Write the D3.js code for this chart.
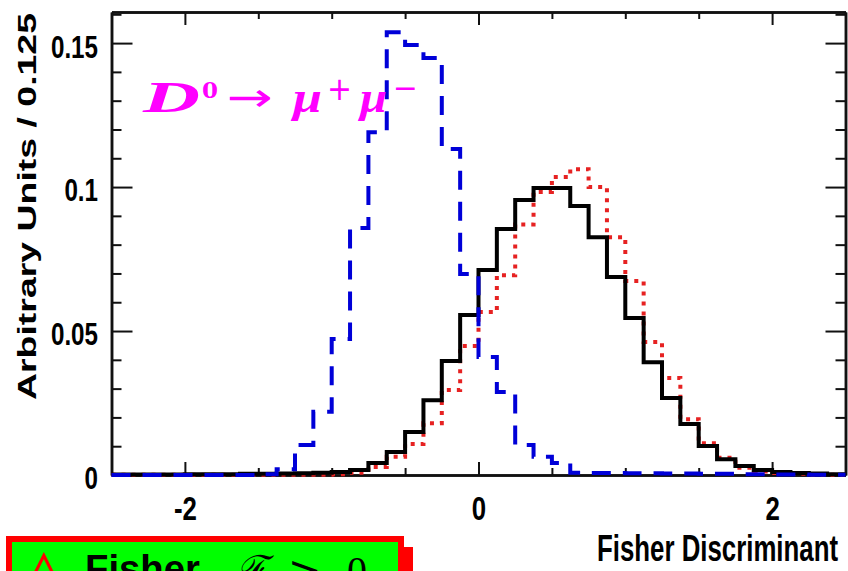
<!DOCTYPE html>
<html>
<head>
<meta charset="utf-8">
<script src="https://cdn.jsdelivr.net/npm/d3@7"></script>
<style>
  body { margin: 0; background: #fff; }
  svg { display: block; }
</style>
</head>
<body>
<div id="chart"></div>
<script>
// bin edges: 40 bins of 0.125 from -2.5 to 2.5
const binLow = -2.5;
const binWidth = 0.125;

// blue dashed histogram (signal-like peak at negative Fisher values)
const blueValues = [
  0, 0, 0, 0, 0, 0, 0, 0, 0.0003,
  0.002, 0.0104, 0.022, 0.0472, 0.0858, 0.119, 0.1538, 0.1493,
  0.1448, 0.1132, 0.0698, 0.041, 0.0288, 0.0104, 0.0063, 0.0042,
  0.0008, 0.0007, 0.0007, 0.0006, 0.0006, 0.0005, 0.0005, 0.0004,
  0.0004, 0.0003, 0.0003, 0.0002, 0.0002, 0.0001, 0.0001
];

// black solid histogram
const blackValues = [
  0.0002, 0.0002, 0.0002, 0.0002, 0.0003, 0.0003, 0.0003, 0.0004,
  0.0004, 0.0005, 0.0006, 0.0008, 0.001, 0.0017, 0.0042, 0.008,
  0.0149, 0.026, 0.0396, 0.0556, 0.0712, 0.0854, 0.0955, 0.0997,
  0.0997, 0.0934, 0.0826, 0.0688, 0.0545, 0.0392, 0.0267, 0.0177,
  0.0101, 0.0055, 0.0031, 0.0017, 0.001, 0.0007, 0.0005, 0.0003
];

// red dotted histogram
const redValues = [
  0.0001, 0.0001, 0.0001, 0.0001, 0.0001, 0.0001, 0.0001, 0.0001,
  0.0001, 0.0001, 0.0001, 0.0001, 0.0003, 0.0008, 0.0028, 0.0063,
  0.0108, 0.018, 0.0295, 0.0448, 0.0566, 0.0694, 0.087, 0.0983,
  0.1035, 0.1062, 0.1, 0.0826, 0.0674, 0.0462, 0.0337, 0.0194,
  0.011, 0.006, 0.0025, 0.0012, 0.0007, 0.0004, 0.0002, 0.0001
];

const xTicks = [-2, 0, 2];
const xTickLabels = ["-2", "0", "2"];
const xMinorTicks = [-1.5, -1, -0.5, 0.5, 1, 1.5];
const yTicks = [0, 0.05, 0.1, 0.15];
const yTickLabels = ["0", "0.05", "0.1", "0.15"];
const yMinorTicks = [0.01, 0.02, 0.03, 0.04, 0.06, 0.07, 0.08, 0.09,
                     0.11, 0.12, 0.13, 0.14, 0.16];

const W = 848, H = 571;
const plot = { left: 111.5, right: 845.5, top: 12, bottom: 475 };

const svg = d3.select("#chart").append("svg")
  .attr("width", W)
  .attr("height", H);

const x = d3.scaleLinear().domain([-2.5, 2.5]).range([plot.left, plot.right]);
const y = d3.scaleLinear().domain([0, 0.1608]).range([plot.bottom, plot.top]);

const axisColor = "#111";

function styleAxis(g) {
  g.attr("font-family", null).attr("font-size", null);
  g.select(".domain").attr("stroke", axisColor).attr("stroke-width", 2.5);
  g.selectAll(".tick line").attr("stroke", axisColor).attr("stroke-width", 2);
}

// minor ticks (no labels)
svg.append("g").attr("transform", `translate(${plot.left},0)`)
  .call(d3.axisLeft(y).tickValues(yMinorTicks).tickSize(-10).tickSizeOuter(0).tickFormat(""))
  .call(styleAxis);
svg.append("g").attr("transform", `translate(${plot.right},0)`)
  .call(d3.axisRight(y).tickValues(yMinorTicks).tickSize(-10).tickSizeOuter(0).tickFormat(""))
  .call(styleAxis);
svg.append("g").attr("transform", `translate(0,${plot.bottom})`)
  .call(d3.axisBottom(x).tickValues(xMinorTicks).tickSize(-7).tickSizeOuter(0).tickFormat(""))
  .call(styleAxis);
svg.append("g").attr("transform", `translate(0,${plot.top})`)
  .call(d3.axisTop(x).tickValues(xMinorTicks).tickSize(-7).tickSizeOuter(0).tickFormat(""))
  .call(styleAxis);

// major ticks
const yLabelScale = 0.78;
const yPad = 13.5;
const yAxis = svg.append("g").attr("transform", `translate(${plot.left},0)`)
  .call(d3.axisLeft(y).tickValues(yTicks).tickSize(-21).tickSizeOuter(0).tickPadding(yPad)
    .tickFormat((d, i) => yTickLabels[i]))
  .call(styleAxis);
yAxis.selectAll("text")
  .attr("font-family", "Liberation Sans, Arial, sans-serif")
  .attr("font-weight", "bold")
  .attr("font-size", 31)
  .attr("fill", "#000")
  .attr("x", -yPad / yLabelScale)
  .attr("y", 4)
  .attr("transform", `scale(${yLabelScale},1)`);

svg.append("g").attr("transform", `translate(${plot.right},0)`)
  .call(d3.axisRight(y).tickValues(yTicks).tickSize(-20).tickSizeOuter(0).tickFormat(""))
  .call(styleAxis);

const xLabelScale = 0.76;
const xAxis = svg.append("g").attr("transform", `translate(0,${plot.bottom})`)
  .call(d3.axisBottom(x).tickValues(xTicks).tickSize(-13).tickSizeOuter(0).tickPadding(21)
    .tickFormat((d, i) => xTickLabels[i]))
  .call(styleAxis);
xAxis.selectAll("text")
  .attr("font-family", "Liberation Sans, Arial, sans-serif")
  .attr("font-weight", "bold")
  .attr("font-size", 34)
  .attr("fill", "#000")
  .attr("transform", `scale(${xLabelScale},1)`);

svg.append("g").attr("transform", `translate(0,${plot.top})`)
  .call(d3.axisTop(x).tickValues(xTicks).tickSize(-13).tickSizeOuter(0).tickFormat(""))
  .call(styleAxis);

// histograms as step lines
function stepPoints(values) {
  const pts = values.map((v, i) => [binLow + i * binWidth, v]);
  pts.push([binLow + values.length * binWidth, values[values.length - 1]]);
  return pts;
}
const stepLine = d3.line()
  .x(d => x(d[0]))
  .y(d => y(d[1]))
  .curve(d3.curveStepAfter);

svg.append("path")
  .datum(stepPoints(redValues))
  .attr("fill", "none")
  .attr("stroke", "#e62222")
  .attr("stroke-width", 4)
  .attr("stroke-dasharray", "4,6")
  .attr("d", stepLine);

svg.append("path")
  .datum(stepPoints(blackValues))
  .attr("fill", "none")
  .attr("stroke", "#000")
  .attr("stroke-width", 4)
  .attr("d", stepLine);

svg.append("path")
  .datum(stepPoints(blueValues))
  .attr("fill", "none")
  .attr("stroke", "#0000d8")
  .attr("stroke-width", 4)
  .attr("stroke-dasharray", "19,12")
  .attr("d", stepLine);

// axis titles
svg.append("text")
  .attr("transform", "translate(36,206.5) rotate(-90)")
  .attr("text-anchor", "middle")
  .attr("font-family", "Liberation Sans, Arial, sans-serif")
  .attr("font-weight", "bold")
  .attr("font-size", 26)
  .attr("textLength", 387)
  .attr("lengthAdjust", "spacingAndGlyphs")
  .text("Arbitrary Units / 0.125");

svg.append("text")
  .attr("x", 597)
  .attr("y", 561)
  .attr("font-family", "Liberation Sans, Arial, sans-serif")
  .attr("font-weight", "bold")
  .attr("font-size", 37)
  .attr("textLength", 241)
  .attr("lengthAdjust", "spacingAndGlyphs")
  .text("Fisher Discriminant");

// decay label
const magenta = "#ff00ff";
const serif = "Liberation Serif, DejaVu Serif, serif";
const sans = "DejaVu Sans, sans-serif";
const label = svg.append("g").attr("fill", magenta);
const labelParts = [
  { t: "D", x: 143, y: 112, s: 44, w: 57, f: serif, b: true, i: true },
  { t: "0", x: 202, y: 98, s: 23, w: 16, f: "DejaVu Serif, serif", b: true, i: false },
  { t: "\u2192", x: 227, y: 111, s: 40, w: 46, f: sans, b: false, i: false },
  { t: "\u03bc", x: 293, y: 112, s: 44, w: 29, f: serif, b: true, i: true },
  { t: "+", x: 327, y: 100, s: 32, w: 25, f: sans, b: false, i: false },
  { t: "\u03bc", x: 360, y: 112, s: 44, w: 27, f: serif, b: true, i: true },
  { t: "\u2212", x: 393, y: 99, s: 32, w: 25, f: sans, b: false, i: false }
];
labelParts.forEach(p => {
  label.append("text")
    .attr("x", p.x).attr("y", p.y)
    .attr("font-family", p.f)
    .attr("font-size", p.s)
    .attr("font-weight", p.b ? "bold" : "normal")
    .attr("font-style", p.i ? "italic" : "normal")
    .attr("textLength", p.w)
    .attr("lengthAdjust", "spacingAndGlyphs")
    .text(p.t);
});

// boxed note at the bottom left (cut by the image edge)
svg.append("rect")
  .attr("x", 15).attr("y", 547).attr("width", 398).attr("height", 40)
  .attr("fill", "#ff0000");
svg.append("rect")
  .attr("x", 9).attr("y", 539).attr("width", 392).attr("height", 50)
  .attr("fill", "#00ff00")
  .attr("stroke", "#ff0000")
  .attr("stroke-width", 6);

svg.append("text")
  .attr("x", 20).attr("y", 592)
  .attr("font-family", "DejaVu Sans, sans-serif")
  .attr("font-size", 62)
  .attr("fill", "#ff0000")
  .text("\u25b3");
svg.append("text")
  .attr("x", 85).attr("y", 582)
  .attr("font-family", "Liberation Sans, Arial, sans-serif")
  .attr("font-weight", "bold")
  .attr("font-size", 38)
  .attr("textLength", 115)
  .attr("lengthAdjust", "spacingAndGlyphs")
  .text("Fisher");
svg.append("text")
  .attr("x", 233).attr("y", 584)
  .attr("font-family", "DejaVu Serif, serif")
  .attr("font-style", "italic")
  .attr("font-size", 40)
  .text("\u2131");
svg.append("text")
  .attr("x", 288).attr("y", 584)
  .attr("font-family", "DejaVu Serif, serif")
  .attr("font-size", 40)
  .text(">");
svg.append("text")
  .attr("x", 347).attr("y", 584)
  .attr("font-family", "Liberation Serif, serif")
  .attr("font-size", 40)
  .text("0");
</script>
</body>
</html>
